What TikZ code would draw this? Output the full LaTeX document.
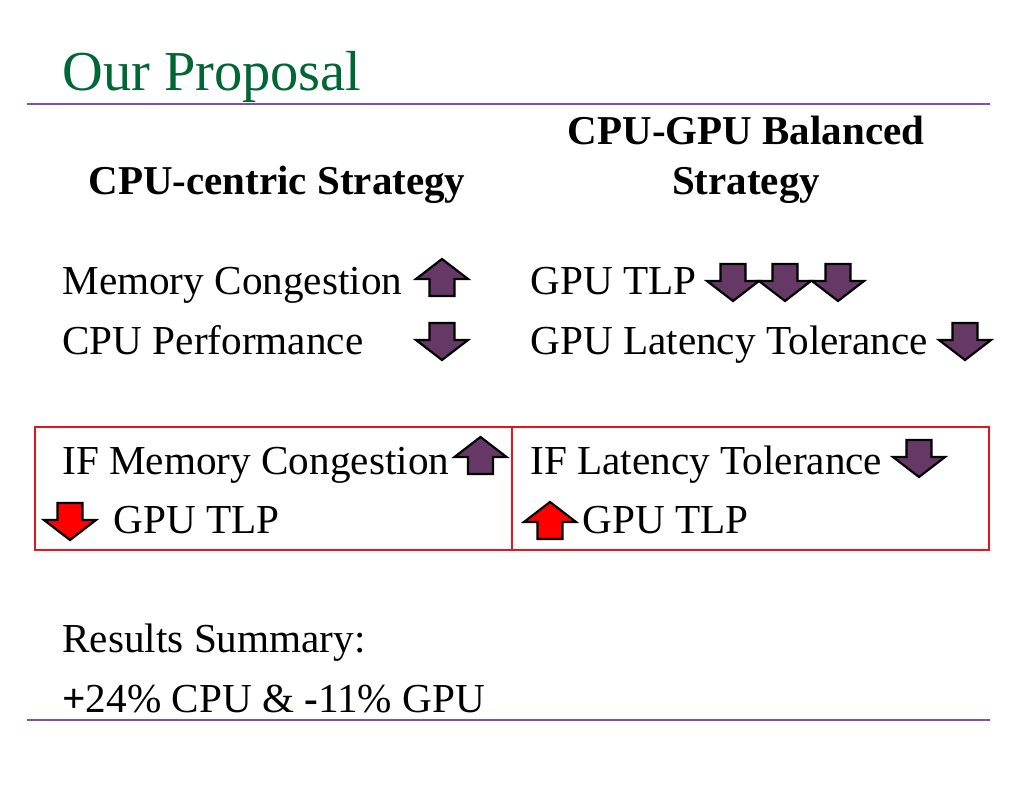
\documentclass[tikz,border=0pt]{standalone}
\usepackage{fontspec}
\setmainfont{Liberation Serif}
\definecolor{titlegreen}{RGB}{0,102,51}
\definecolor{rulepurple}{RGB}{128,80,176}
\definecolor{arrpurple}{RGB}{102,56,102}
\definecolor{boxred}{RGB}{232,20,30}
\newcommand\blockup[3]{% cx, top, fill
  \filldraw[blockarrow, fill=#3] (#1,#2) -- ++(26,20) -- ++(-13.5,0) -- ++(0,17) -- ++(-25,0) -- ++(0,-17) -- ++(-13.5,0) -- cycle;}
\newcommand\blockdown[3]{% cx, top, fill
  \filldraw[blockarrow, fill=#3] (#1,#2) ++(-12.5,0) -- ++(25,0) -- ++(0,17) -- ++(13.5,0) -- ++(-26,20) -- ++(-26,-20) -- ++(13.5,0) -- cycle;}
\tikzset{
  blockarrow/.style={draw=black, line width=1.1pt, line join=miter},
  txt/.style={anchor=base west, inner sep=0pt, font=\fontsize{20.6}{24}\selectfont},
  head/.style={anchor=base, inner sep=0pt, font=\fontsize{20.5}{24}\selectfont\bfseries},
  rulel/.style={draw=rulepurple, line width=1.3pt},
  redbox/.style={draw=boxred, line width=1pt, anchor=north west, minimum width=238.5pt, minimum height=61.5pt, inner sep=0pt, outer sep=0pt}
}
\begin{document}
\begin{tikzpicture}[x=0.5pt, y=-0.5pt]
\useasboundingbox (0,0) rectangle (1024,791);
% title
\node[anchor=base west, inner sep=0pt, text=titlegreen, font=\fontsize{28.2}{32}\selectfont] (title) at (62,91) {Our Proposal};
\coordinate (r1a) at (27,104); \coordinate (r1b) at (990,104);
\draw[rulel] (r1a) -- (r1b);
\coordinate (r2a) at (27,720); \coordinate (r2b) at (990,720);
\draw[rulel] (r2a) -- (r2b);
% headings
\node[head] (h1) at (277,195) {CPU-centric Strategy};
\node[head] (h2a) at (746,145) {CPU-GPU Balanced};
\node[head] (h2b) at (746,195) {Strategy};
% rows
\node[txt] (mc) at (62,295) {Memory Congestion};
\node[txt] (cp) at (62,355) {CPU Performance};
\node[txt] (gt) at (530,295) {GPU TLP};
\node[txt] (glt) at (530,355) {GPU Latency Tolerance};
\blockup{442}{259}{arrpurple}
\blockdown{442}{323}{arrpurple}
\blockdown{733}{264}{arrpurple}
\blockdown{785}{264}{arrpurple}
\blockdown{838}{264}{arrpurple}
\blockdown{965}{323}{arrpurple}
% red boxes
\node[redbox] (boxl) at (35,427) {};
\node[redbox] (boxr) at (512,427) {};
\node[txt] (ifmc) at (62,474) {IF Memory Congestion};
\node[txt] (gtl) at (113,533) {GPU TLP};
\node[txt] (iflt) at (530,474) {IF Latency Tolerance};
\node[txt] (gtr) at (582,533) {GPU TLP};
\blockup{480.5}{437}{arrpurple}
\blockdown{70}{503}{red}
\blockdown{919}{440}{arrpurple}
\blockup{550}{502}{red}
% results
\node[txt] (rs) at (62,653) {Results Summary:};
\node[txt] (res) at (62,712) {\textbf{+}24\% CPU \& \textbf{-}11\% GPU};
\end{tikzpicture}
\end{document}
